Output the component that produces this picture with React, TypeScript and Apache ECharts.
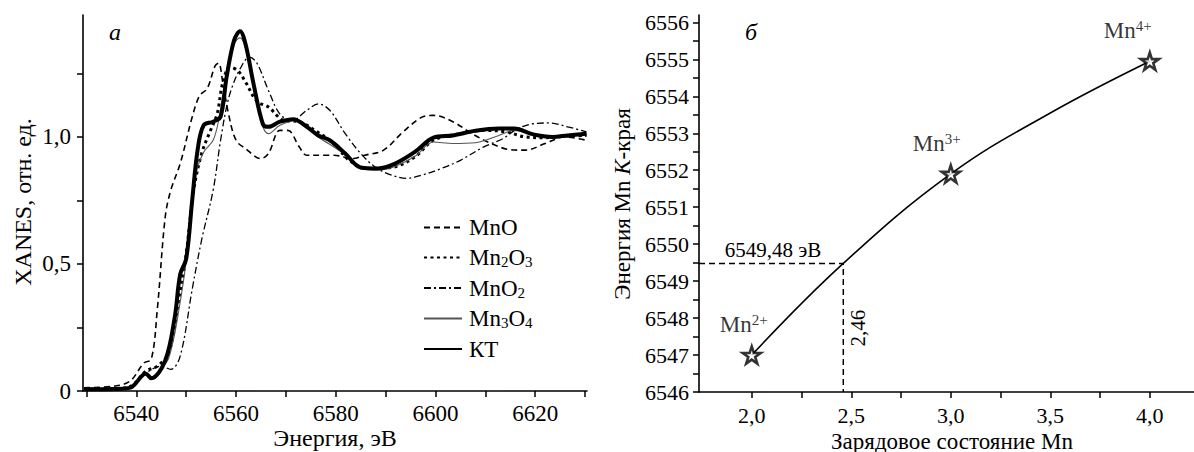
import React, { useEffect, useRef } from "react";
import * as echarts from "echarts";

const FONT = "Liberation Serif";

// ---- Panel a: XANES spectra (energy eV, normalized absorption) ----
const legendNames = ["MnO", "Mn2O3", "MnO2", "Mn3O4", "КТ"];

const mnO: number[][] = [
  [6529.5, 0.013], [6535.8, 0.02], [6538.8, 0.04], [6541.5, 0.11], [6543, 0.125],
  [6544.2, 0.32], [6545.8, 0.686], [6546.9, 0.79], [6548.8, 0.895], [6551.2, 1.078],
  [6552.7, 1.163], [6554.2, 1.19], [6555.8, 1.28], [6556.5, 1.29], [6557.3, 1.22],
  [6558.5, 1.09], [6560, 0.987], [6561.9, 0.954], [6565, 0.915], [6566.5, 0.935],
  [6568.8, 1.026], [6570.4, 1.026], [6572.7, 0.96], [6574.2, 0.928], [6579.6, 0.928],
  [6583.5, 0.915], [6585.8, 0.928], [6589.6, 0.948], [6593.5, 1.02], [6597.3, 1.078],
  [6599.6, 1.085], [6603.5, 1.06], [6607.3, 1.013], [6611.2, 0.974], [6615, 0.95],
  [6618, 0.948], [6622, 0.974], [6625.8, 1.0], [6630.3, 0.987],
];

const mn2O3: number[][] = [
  [6529.5, 0.008], [6536, 0.01], [6539, 0.02], [6541.9, 0.078], [6544.2, 0.098],
  [6546.5, 0.15], [6548.5, 0.36], [6550, 0.54], [6551.5, 0.79], [6553.1, 0.935],
  [6554.6, 1.013], [6556.2, 1.09], [6557.3, 1.21], [6558.8, 1.275], [6560.4, 1.26],
  [6561.9, 1.216], [6564.2, 1.14], [6566.5, 1.118], [6569.6, 1.065], [6572.7, 1.06],
  [6575.8, 1.026], [6579.6, 0.974], [6582.7, 0.908], [6586.5, 0.876], [6591.2, 0.88],
  [6595.8, 0.92], [6599.6, 0.987], [6605, 1.013], [6609.6, 1.026], [6614.2, 1.02],
  [6618, 1.0], [6622, 0.997], [6625.8, 1.003], [6630.3, 1.006],
];

const mnO2: number[][] = [
  [6529.5, 0.008], [6536, 0.01], [6539, 0.02], [6541.9, 0.07], [6545, 0.098],
  [6546.9, 0.085], [6548.8, 0.137], [6551.2, 0.4], [6553.1, 0.595], [6555.4, 0.79],
  [6556.9, 0.987], [6558.1, 1.118], [6559.2, 1.196], [6560.8, 1.268], [6562.7, 1.314],
  [6564.2, 1.29], [6566.5, 1.183], [6568.8, 1.09], [6571.2, 1.065], [6574.2, 1.105],
  [6576.5, 1.13], [6578.8, 1.105], [6581.9, 1.013], [6585, 0.935], [6588, 0.88],
  [6591.2, 0.85], [6594.2, 0.837], [6597.3, 0.85], [6601.2, 0.876], [6605, 0.908],
  [6609.6, 0.96], [6613.5, 0.993], [6616.5, 1.033], [6619.6, 1.052], [6622.7, 1.055],
  [6626.5, 1.04], [6630.3, 1.02],
];

const mn3O4: number[][] = [
  [6529.5, 0.006], [6536, 0.008], [6539, 0.015], [6541.9, 0.07], [6543, 0.055],
  [6544.5, 0.08], [6546.5, 0.13], [6548.5, 0.315], [6550.4, 0.57], [6551.9, 0.85],
  [6553.5, 0.94], [6555.4, 0.987], [6556.5, 1.065], [6557.7, 1.21], [6559.2, 1.35],
  [6560.8, 1.39], [6561.9, 1.35], [6563.5, 1.196], [6565.4, 1.04], [6566.5, 1.013],
  [6568.8, 1.046], [6571.9, 1.065], [6576.5, 1.0], [6581.9, 0.93], [6585, 0.875],
  [6588.5, 0.87], [6592, 0.885], [6596, 0.925], [6599.6, 0.98], [6603.5, 0.974],
  [6608, 0.977], [6612.7, 1.006], [6615.8, 1.026], [6619.6, 1.01], [6623.5, 1.0],
  [6626.5, 1.006], [6630.3, 1.013],
];

const kt: number[][] = [
  [6529.5, 0.007], [6536, 0.008], [6538.8, 0.013], [6541.9, 0.068], [6543, 0.05],
  [6545.8, 0.12], [6547.7, 0.29], [6548.8, 0.46], [6550, 0.52], [6551.2, 0.75],
  [6552.3, 0.95], [6553.5, 1.046], [6555.4, 1.06], [6556.9, 1.08], [6558.1, 1.235],
  [6559.6, 1.38], [6560.8, 1.416], [6561.9, 1.366], [6563.5, 1.21], [6565.4, 1.05],
  [6566.5, 1.04], [6568.8, 1.06], [6571.5, 1.07], [6573.5, 1.05], [6576.5, 1.006],
  [6578.8, 0.987], [6581.9, 0.935], [6585, 0.88], [6588.5, 0.876], [6591.9, 0.895],
  [6595.8, 0.94], [6599.6, 0.997], [6603.5, 1.006], [6608, 1.024], [6612.7, 1.033],
  [6615.8, 1.033], [6619.6, 1.01], [6623.5, 1.0], [6626.5, 1.006], [6630.3, 1.013],
];

const xTicksA = [6530, 6540, 6550, 6560, 6570, 6580, 6590, 6600, 6610, 6620, 6630];
const xLabelsA = [6540, 6560, 6580, 6600, 6620];
const yTicksA = [0, 0.25, 0.5, 0.75, 1.0, 1.25];
const yLabelsA = [0, 0.5, 1.0];

// ---- Panel б: K-edge energy vs. Mn oxidation state ----
const states = [2.0, 3.0, 4.0];
const edgeEnergies = [6547.0, 6551.9, 6554.95];
const stateLabels = ["2+", "3+", "4+"];
const curveStates = [2.0, 2.46, 3.0, 3.5, 4.0];
const curveEnergies = [6547.0, 6549.48, 6551.9, 6553.55, 6554.95];
const crossing = [2.46, 6549.48];
const xTicksB = [2.0, 2.25, 2.5, 2.75, 3.0, 3.25, 3.5, 3.75, 4.0];
const xLabelsB = [2.0, 2.5, 3.0, 3.5, 4.0];
const yTicksB = [6546, 6546.5, 6547, 6547.5, 6548, 6548.5, 6549, 6549.5, 6550, 6550.5, 6551, 6551.5, 6552, 6552.5, 6553, 6553.5, 6554, 6554.5, 6555, 6555.5, 6556];
const yLabelsB = [6546, 6547, 6548, 6549, 6550, 6551, 6552, 6553, 6554, 6555, 6556];

const STAR = "path://M50,2 L61,36 L97,36 L68,57 L79,92 L50,71 L21,92 L32,57 L3,36 L39,36 Z";

const comma = (v: number, d: number) => (v === 0 ? "0" : v.toFixed(d).replace(".", ","));

const legendRich = {
  n: { fontSize: 23, fontFamily: FONT, color: "#000", lineHeight: 24 },
  s: { fontSize: 15, fontFamily: FONT, color: "#000", lineHeight: 15, verticalAlign: "bottom" as const },
};

function legendFormat(name: string) {
  switch (name) {
    case "Mn2O3": return "{n|Mn}{s|2}{n|O}{s|3}";
    case "MnO2": return "{n|MnO}{s|2}";
    case "Mn3O4": return "{n|Mn}{s|3}{n|O}{s|4}";
    default: return "{n|" + name + "}";
  }
}

function txt(x: number, y: number, text: string, size: number, extra: any = {}) {
  return {
    type: "text", x, y, rotation: extra.rotation || 0,
    style: {
      text, fontFamily: FONT, fontSize: size, fontStyle: extra.italic ? "italic" : "normal",
      fill: "#000", align: "center", verticalAlign: "middle",
    },
  };
}

export default function App() {
  const ref = useRef<HTMLDivElement>(null);
  useEffect(() => {
    if (!ref.current) return;
    const chart = echarts.init(ref.current, undefined, { renderer: "svg" });
    const axisLine = { show: true, lineStyle: { color: "#000", width: 1.6 } };
    const labelBase = { color: "#000", fontFamily: FONT };

    const starData = states.map((s, i) => ({
      value: [s, edgeEnergies[i]],
      name: stateLabels[i],
      label: { offset: [[-8, -4], [-14, -4], [-22, -4]][i] },
    }));

    chart.setOption({
      animation: false,
      backgroundColor: "#fff",
      textStyle: { fontFamily: FONT, color: "#000" },
      grid: [
        { left: 83, top: 15, width: 504, height: 376 },
        { left: 699, top: 15, width: 495, height: 377 },
      ],
      xAxis: [
        {
          gridIndex: 0, type: "value", min: 6529.3, max: 6630.4,
          axisLine, splitLine: { show: false },
          axisTick: { customValues: xTicksA, length: 6, lineStyle: { color: "#000", width: 1.5 } },
          axisLabel: { ...labelBase, customValues: xLabelsA, fontSize: 23, margin: 11, formatter: (v: number) => String(v) },
        },
        {
          gridIndex: 1, type: "value", min: 1.735, max: 4.222,
          axisLine, splitLine: { show: false },
          axisTick: { customValues: xTicksB, length: 6, lineStyle: { color: "#000", width: 1.5 } },
          axisLabel: { ...labelBase, customValues: xLabelsB, fontSize: 22, margin: 12, formatter: (v: number) => comma(v, 1) },
        },
      ],
      yAxis: [
        {
          gridIndex: 0, type: "value", min: 0, max: 1.48,
          axisLine, splitLine: { show: false },
          axisTick: { customValues: yTicksA, length: 6, lineStyle: { color: "#000", width: 1.5 } },
          axisLabel: { ...labelBase, customValues: yLabelsA, fontSize: 23, margin: 12, formatter: (v: number) => comma(v, 1) },
        },
        {
          gridIndex: 1, type: "value", min: 6546, max: 6556.2,
          axisLine, splitLine: { show: false },
          axisTick: { customValues: yTicksB, length: 6, lineStyle: { color: "#000", width: 1.5 } },
          axisLabel: { ...labelBase, customValues: yLabelsB, fontSize: 22, margin: 10, formatter: (v: number) => String(v) },
        },
      ],
      legend: {
        data: legendNames,
        orient: "vertical",
        left: 418,
        top: 211,
        itemWidth: 38,
        itemHeight: 14,
        itemGap: 7,
        formatter: legendFormat,
        itemStyle: { opacity: 0 },
        textStyle: { fontFamily: FONT, fontSize: 23, color: "#000", rich: legendRich, padding: [0, 0, 0, 2] },
        selectedMode: false,
      },
      series: [
        {
          name: "MnO", type: "line", xAxisIndex: 0, yAxisIndex: 0, data: mnO,
          showSymbol: false, symbol: "none", smooth: 0.35, color: "#000",
          lineStyle: { color: "#000", width: 1.6, type: [6, 4] },
        },
        {
          name: "Mn2O3", type: "line", xAxisIndex: 0, yAxisIndex: 0, data: mn2O3,
          showSymbol: false, symbol: "none", smooth: 0.35, color: "#000",
          lineStyle: { color: "#000", width: 3, type: [3, 3.5] },
        },
        {
          name: "MnO2", type: "line", xAxisIndex: 0, yAxisIndex: 0, data: mnO2,
          showSymbol: false, symbol: "none", smooth: 0.35, color: "#000",
          lineStyle: { color: "#000", width: 1.3, type: [7, 3, 2, 3] },
        },
        {
          name: "Mn3O4", type: "line", xAxisIndex: 0, yAxisIndex: 0, data: mn3O4,
          showSymbol: false, symbol: "none", smooth: 0.35, color: "#666",
          lineStyle: { color: "#555", width: 1.1, type: "solid" },
        },
        {
          name: "КТ", type: "line", xAxisIndex: 0, yAxisIndex: 0, data: kt,
          showSymbol: false, symbol: "none", smooth: 0.35, color: "#000",
          lineStyle: { color: "#000", width: 4, type: "solid" },
        },
        {
          name: "curve", type: "line", xAxisIndex: 1, yAxisIndex: 1,
          data: curveStates.map((s, i) => [s, curveEnergies[i]]),
          showSymbol: false, symbol: "none", smooth: 0.4,
          lineStyle: { color: "#000", width: 1.6 },
        },
        {
          name: "guide", type: "line", xAxisIndex: 1, yAxisIndex: 1,
          data: [[1.735, crossing[1]], [crossing[0], crossing[1]], [crossing[0], 6546]],
          showSymbol: false, symbol: "none",
          lineStyle: { color: "#000", width: 1.5, type: [6, 4] },
        },
        {
          name: "states", type: "scatter", xAxisIndex: 1, yAxisIndex: 1, data: starData,
          symbol: STAR, symbolSize: 18, symbolKeepAspect: true, z: 5,
          itemStyle: { color: "#fff", borderColor: "#000", borderWidth: 2.6 },
          label: {
            show: true, position: "top", color: "#000", textBorderWidth: 0,
            formatter: (p: any) => "{n|Mn}{p|" + p.name + "}",
            rich: {
              n: { fontSize: 23, fontFamily: FONT, color: "#000", lineHeight: 24 },
              p: { fontSize: 15, fontFamily: FONT, color: "#000", lineHeight: 15, verticalAlign: "top" },
            },
          },
        },
      ],
      graphic: [
        txt(115, 32, "а", 24, { italic: true }),
        txt(751, 32, "б", 24, { italic: true }),
        txt(23, 202, "XANES, отн. ед.", 24, { rotation: Math.PI / 2 }),
        txt(335, 438, "Энергия, эВ", 24),
        txt(952, 441, "Зарядовое состояние Mn", 23),
        {
          type: "text", x: 622, y: 204, rotation: Math.PI / 2,
          style: {
            text: "{n|Энергия Mn }{i|K}{n|-края}", align: "center", verticalAlign: "middle",
            rich: {
              n: { fontSize: 23, fontFamily: FONT, fill: "#000" },
              i: { fontSize: 23, fontFamily: FONT, fontStyle: "italic", fill: "#000" },
            },
          },
        },
        txt(773, 250, "6549,48 эВ", 21),
        txt(858, 328, "2,46", 21, { rotation: Math.PI / 2 }),
      ],
    });
    return () => chart.dispose();
  }, []);
  return <div ref={ref} style={{ position: "absolute", left: 0, top: 0, width: 1194, height: 452 }} />;
}
